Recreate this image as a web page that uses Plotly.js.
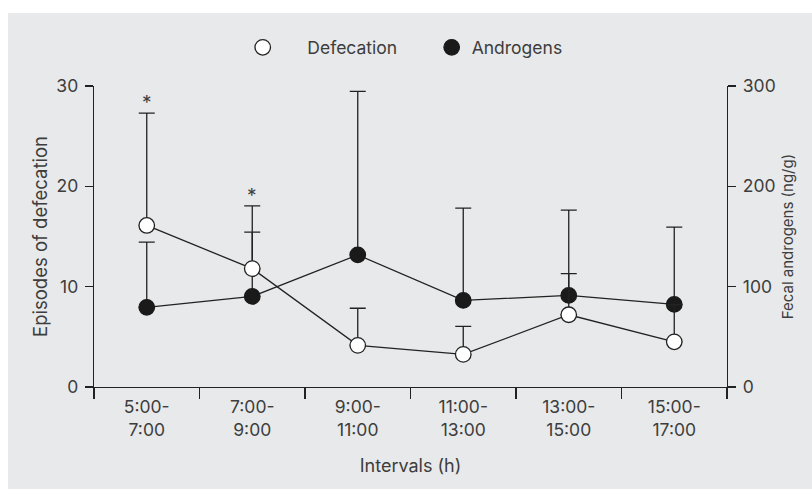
<!DOCTYPE html>
<html>
<head>
<meta charset="utf-8">
<script src="https://cdn.plot.ly/plotly-3.0.1.min.js"></script>
<style>
  html, body { margin: 0; padding: 0; background: #ffffff; }
  #chart { position: absolute; left: 8px; top: 13px; width: 804px; height: 476px; }
</style>
</head>
<body>
<div id="chart"></div>
<script>
// ---- data ----
const categories = ["5:00-<br>7:00", "7:00-<br>9:00", "9:00-<br>11:00", "11:00-<br>13:00", "13:00-<br>15:00", "15:00-<br>17:00"];
const defecation = [16.1, 11.8, 4.15, 3.25, 7.2, 4.5];          // episodes
const defecationErr = [11.2, 6.25, 3.7, 2.8, 4.1, 3.7];         // upper SD
const androgens = [79.4, 90.3, 131.7, 86.3, 91.3, 82.3];        // ng/g
const androgensErr = [65, 64, 163, 92, 85, 77];                 // upper SD
const significance = ["*", "*", "", "", "", ""];
const leftTicks = [0, 10, 20, 30];
const rightTicks = [0, 100, 200, 300];

const ink = "#222222";
const txt = "#3d3d3d";
const fontFam = "Inter, 'Liberation Sans', Arial, sans-serif";
const lw = 1.3;
const sp = "\u00a0";

const traces = [
  { x: categories, y: androgens, yaxis: "y", mode: "lines", line: {color: ink, width: lw},
    showlegend: false, hoverinfo: "skip" },
  { x: categories, y: androgens, yaxis: "y", mode: "markers", name: "Androgens", legendrank: 2,
    marker: {size: 15.5, color: "#1a1a1a", line: {color: "#1a1a1a", width: lw}},
    error_y: {type: "data", symmetric: false, array: androgensErr, arrayminus: androgensErr.map(() => 0),
              color: ink, thickness: lw, width: 8} },
  { x: categories, y: defecation, yaxis: "y2", mode: "lines", line: {color: ink, width: lw},
    showlegend: false, hoverinfo: "skip" },
  { x: categories, y: defecation, yaxis: "y2", mode: "markers",
    name: sp.repeat(5) + "Defecation" + sp.repeat(6), legendrank: 1,
    marker: {size: 15.5, color: "#ffffff", line: {color: ink, width: lw}},
    error_y: {type: "data", symmetric: false, array: defecationErr, arrayminus: defecationErr.map(() => 0),
              color: ink, thickness: lw, width: 8} }
];

const annotations = significance.map((s, i) => ({
  x: categories[i], y: defecation[i] + defecationErr[i], xref: "x", yref: "y2",
  text: s, showarrow: false, yanchor: "bottom", yshift: -3,
  font: {family: fontFam, size: 19, color: txt}
})).filter(a => a.text !== "");

const baseY = {
  showgrid: false, zeroline: false, showline: true, linecolor: ink, linewidth: lw,
  ticks: "outside", ticklen: 8, tickwidth: lw, tickcolor: ink, ticklabelstandoff: 3,
  tickfont: {family: fontFam, size: 17.5, color: txt}, automargin: false
};

const layout = {
  width: 804, height: 476,
  margin: {l: 86, r: 85, t: 73, b: 102, pad: 0},
  paper_bgcolor: "#e8e9ea", plot_bgcolor: "rgba(0,0,0,0)",
  font: {family: fontFam, color: txt, size: 17.5},
  showlegend: true,
  legend: {orientation: "h", x: 0.235, xanchor: "left", y: 1.128, yanchor: "middle",
           bgcolor: "rgba(0,0,0,0)", font: {family: fontFam, size: 17.5, color: txt},
           itemwidth: 30, traceorder: "normal"},
  xaxis: {
    type: "category", range: [-0.5, 5.5], tickson: "boundaries",
    showgrid: false, zeroline: false, showline: true, linecolor: ink, linewidth: lw,
    ticks: "outside", ticklen: 11, tickwidth: lw, tickcolor: ink, ticklabelstandoff: 4,
    tickfont: {family: fontFam, size: 17.5, color: txt}, automargin: false,
    title: {text: "Intervals (h)" + sp.repeat(3), standoff: 20, font: {family: fontFam, size: 18, color: txt}}
  },
  yaxis: Object.assign({}, baseY, {
    side: "right", anchor: "x", range: [0, 300], tickvals: rightTicks,
    title: {text: "Fecal androgens (ng/g)", standoff: 7, font: {family: fontFam, size: 15, color: txt}}
  }),
  yaxis2: Object.assign({}, baseY, {
    side: "left", overlaying: "y", anchor: "x", range: [0, 30], tickvals: leftTicks,
    title: {text: "Episodes of defecation", standoff: 4, font: {family: fontFam, size: 18.5, color: txt}}
  }),
  yaxis3: {overlaying: "y", anchor: "x", side: "left", range: [0, 30], tickvals: leftTicks,
           ticks: "inside", ticklen: 6, tickwidth: lw, tickcolor: ink, showticklabels: false,
           showline: false, showgrid: false, zeroline: false},
  yaxis4: {overlaying: "y", anchor: "x", side: "right", range: [0, 300], tickvals: rightTicks,
           ticks: "inside", ticklen: 6, tickwidth: lw, tickcolor: ink, showticklabels: false,
           showline: false, showgrid: false, zeroline: false},
  annotations: annotations
};

Plotly.newPlot("chart", traces, layout, {displayModeBar: false, staticPlot: true});
</script>
</body>
</html>
